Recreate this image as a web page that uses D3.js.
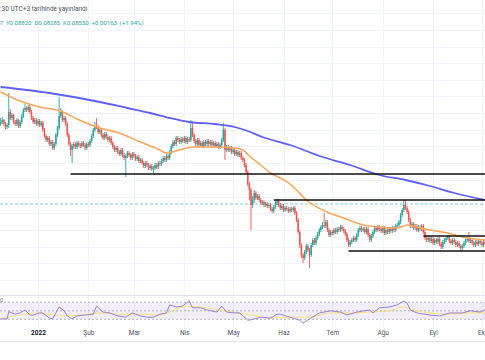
<!DOCTYPE html>
<html><head><meta charset="utf-8">
<script src="https://cdn.jsdelivr.net/npm/d3@7"></script>
<style>
body{margin:0;background:#fff;}
svg{display:block;font-family:Roboto,"DejaVu Sans",sans-serif;}
</style></head>
<body><svg id="c" width="485" height="360"></svg>
<script>
// ---- DATA (DOGE daily candles, first candle 2021-12-09) ----
const firstDay = "2021-12-09";
const firstOpen = 0.1335;
const closes = [
.1347,.1359,.1335,.1317,.1329,.1407,.1371,.1389,.1347,.1335,
.1359,.1323,.1347,.1383,.1419,.1431,.1419,.1437,.1407,.1371,
.1347,.1359,.1335,.1353,.1329,.1341,.1299,.1263,.1239,.1251,
.1215,.1227,.1191,.1215,.1269,.1311,.1383,.1407,.1359,.1371,
.1335,.1269,.1215,.1179,.1203,.1215,.1197,.1221,.1209,.1203,
.1221,.1209,.1191,.1215,.1209,.1233,.1263,.1299,.1323,.1317,
.1287,.1299,.1269,.1251,.1275,.1257,.1239,.1251,.1221,.1197,
.1179,.1191,.1167,.1155,.1179,.1149,.1131,.1143,.1161,.1149,
.1131,.1155,.1143,.1125,.1137,.1113,.1119,.1101,.1083,.1101,
.1089,.1071,.1083,.1065,.1071,.1089,.1077,.1101,.1095,.1113,
.1131,.1119,.1143,.1131,.1167,.1203,.1227,.1215,.1251,.1239,
.1227,.1245,.1233,.1251,.1227,.1245,.1239,.1311,.1269,.1233,
.1215,.1239,.1209,.1221,.1203,.1227,.1215,.1233,.1215,.1227,
.1209,.1221,.1203,.1215,.1197,.1209,.1239,.1299,.1179,.1197,
.1179,.1191,.1167,.1179,.1155,.1167,.1149,.1161,.1131,.1119,
.1089,.1047,.0975,.0939,.0849,.0879,.0921,.0891,.0903,.0879,
.0861,.0867,.0849,.0855,.0843,.0849,.0825,.0813,.0837,.0861,
.0873,.0849,.0831,.0843,.0819,.0831,.0825,.0813,.0825,.0819,
.0831,.0801,.0759,.0687,.0609,.0549,.0531,.0567,.0603,.0579,
.0549,.0609,.0639,.0621,.0651,.0675,.0699,.0717,.0729,.0723,
.0747,.0699,.0669,.0687,.0681,.0699,.0687,.0705,.0699,.0717,
.0705,.0693,.0675,.0639,.0609,.0627,.0639,.0651,.0639,.0669,
.0699,.0711,.0699,.0705,.0687,.0705,.0669,.0639,.0663,.0687,
.0711,.0699,.0717,.0705,.0693,.0711,.0681,.0699,.0687,.0705,
.0693,.0711,.0699,.0723,.0729,.0747,.0789,.0819,.0849,.0831,
.0807,.0759,.0723,.0735,.0711,.0723,.0699,.0717,.0705,.0723,
.0687,.0651,.0639,.0651,.0633,.0645,.0621,.0639,.0627,.0645,
.0615,.0597,.0627,.0639,.0651,.0657,.0633,.0621,.0639,.0627,
.0609,.0621,.0603,.0591,.0603,.0621,.0639,.0645,.0633,.0639,
.0621,.0609,.0627,.0615,.0633,.0621,.0609,.0627,.0615];
const highs = [
.1371,.1377,.1365,.1347,.1341,.1521,.1425,.1401,.1395,.1359,
.1371,.1365,.1359,.1395,.1431,.1455,.1443,.1449,.1449,.1419,
.1383,.1371,.1371,.1365,.1365,.1353,.1353,.1311,.1275,.1263,
.1263,.1239,.1239,.1227,.1281,.1323,.1497,.1431,.1419,.1383,
.1383,.1347,.1281,.1227,.1215,.1227,.1227,.1233,.1233,.1221,
.1233,.1233,.1221,.1227,.1227,.1245,.1275,.1311,.1347,.1371,
.1329,.1311,.1311,.1281,.1287,.1287,.1269,.1263,.1263,.1233,
.1209,.1203,.1203,.1179,.1191,.1191,.1161,.1155,.1173,.1173,
.1161,.1167,.1167,.1155,.1149,.1149,.1131,.1131,.1113,.1113,
.1113,.1101,.1095,.1095,.1083,.1101,.1101,.1113,.1113,.1125,
.1143,.1143,.1155,.1155,.1179,.1215,.1239,.1239,.1263,.1263,
.1251,.1257,.1257,.1263,.1263,.1257,.1257,.1359,.1347,.1281,
.1245,.1251,.1251,.1233,.1233,.1239,.1239,.1245,.1245,.1239,
.1239,.1233,.1233,.1227,.1227,.1221,.1251,.1341,.1311,.1209,
.1209,.1203,.1203,.1191,.1191,.1179,.1179,.1173,.1173,.1143,
.1131,.1101,.1059,.0987,.0951,.0903,.0939,.0933,.0915,.0915,
.0891,.0879,.0879,.0867,.0867,.0861,.0861,.0837,.0849,.0873,
.0885,.0885,.0861,.0855,.0855,.0843,.0843,.0837,.0837,.0837,
.0843,.0843,.0813,.0771,.0699,.0621,.0561,.0579,.0615,.0615,
.0591,.0621,.0651,.0651,.0663,.0687,.0711,.0729,.0747,.0801,
.0759,.0759,.0711,.0699,.0699,.0711,.0711,.0717,.0717,.0729,
.0729,.0717,.0705,.0687,.0651,.0639,.0651,.0663,.0663,.0681,
.0711,.0723,.0723,.0717,.0717,.0717,.0717,.0681,.0675,.0699,
.0723,.0723,.0729,.0729,.0717,.0723,.0723,.0711,.0711,.0717,
.0717,.0723,.0723,.0735,.0741,.0759,.0801,.0831,.0879,.0879,
.0843,.0819,.0771,.0747,.0747,.0735,.0735,.0729,.0729,.0735,
.0735,.0699,.0663,.0663,.0663,.0657,.0657,.0651,.0651,.0657,
.0657,.0627,.0639,.0651,.0663,.0669,.0669,.0645,.0651,.0651,
.0639,.0633,.0633,.0615,.0615,.0633,.0651,.0657,.0687,.0651,
.0651,.0633,.0639,.0639,.0645,.0645,.0633,.0639,.0639];
const lows = [
.1323,.1335,.1323,.1305,.1305,.1311,.1359,.1359,.1335,.1323,
.1323,.1311,.1311,.1335,.1371,.1407,.1407,.1407,.1395,.1359,
.1335,.1335,.1323,.1323,.1317,.1317,.1287,.1251,.1227,.1227,
.1203,.1203,.1179,.1179,.1203,.1257,.1299,.1371,.1347,.1347,
.1323,.1257,.1203,.1143,.1101,.1185,.1185,.1185,.1197,.1191,
.1191,.1197,.1179,.1179,.1197,.1197,.1221,.1251,.1287,.1305,
.1275,.1275,.1257,.1239,.1239,.1245,.1227,.1227,.1209,.1185,
.1167,.1167,.1155,.1143,.1143,.1137,.1119,.1017,.1131,.1137,
.1119,.1119,.1131,.1113,.1113,.1101,.1101,.1089,.1071,.1071,
.1077,.1059,.1059,.1053,.1041,.1059,.1065,.1065,.1083,.1083,
.1101,.1107,.1107,.1119,.1119,.1155,.1191,.1203,.1203,.1227,
.1215,.1215,.1221,.1221,.1215,.1215,.1227,.1227,.1257,.1221,
.1203,.1203,.1197,.1197,.1191,.1191,.1203,.1203,.1203,.1203,
.1197,.1197,.1191,.1191,.1185,.1185,.1197,.1227,.1119,.1167,
.1167,.1167,.1155,.1155,.1143,.1143,.1137,.1137,.1119,.1107,
.1077,.1035,.0963,.0879,.0699,.0831,.0861,.0879,.0879,.0867,
.0849,.0849,.0837,.0837,.0831,.0831,.0813,.0801,.0801,.0825,
.0849,.0837,.0819,.0819,.0807,.0807,.0813,.0801,.0801,.0807,
.0807,.0789,.0747,.0675,.0591,.0531,.0501,.0519,.0555,.0567,
.0471,.0537,.0597,.0609,.0609,.0639,.0663,.0687,.0705,.0711,
.0711,.0687,.0657,.0657,.0669,.0669,.0675,.0675,.0687,.0687,
.0693,.0681,.0663,.0627,.0597,.0597,.0615,.0627,.0627,.0627,
.0657,.0687,.0687,.0687,.0675,.0675,.0657,.0627,.0627,.0651,
.0675,.0687,.0687,.0693,.0681,.0681,.0669,.0669,.0675,.0675,
.0681,.0681,.0687,.0687,.0711,.0717,.0735,.0777,.0807,.0819,
.0795,.0747,.0711,.0711,.0699,.0699,.0687,.0687,.0693,.0693,
.0675,.0639,.0627,.0627,.0621,.0621,.0609,.0609,.0615,.0615,
.0603,.0585,.0585,.0615,.0627,.0639,.0621,.0609,.0609,.0615,
.0597,.0597,.0591,.0567,.0579,.0591,.0609,.0627,.0621,.0621,
.0609,.0597,.0597,.0603,.0603,.0609,.0597,.0597,.0603];

// moving averages (candle index -> value)
const ma50Idx = [0,12,24,37,47,61,73,86,98,102,110,118,131,144,149,153,160,166,172,178,182,188,198,211,223,233,244,250,256,264,275,284,298];
const ma50Val = [.1527,.1473,.1437,.1413,.1365,.1311,.1281,.1227,.1179,.1161,.1179,.1197,.1197,.1191,.1179,.1143,.1089,.1041,.1011,.0975,.0939,.0879,.0819,.0771,.0729,.0717,.0711,.0729,.0717,.0699,.0681,.0657,.0639];
const ma200Idx = [0,30,61,78,92,104,116,132,144,152,161,178,198,215,233,249,264,279,298];
const ma200Val = [.1557,.1521,.1467,.1431,.1401,.1371,.1347,.1335,.1317,.1293,.1257,.1209,.1137,.1089,.1029,.0999,.0963,.0921,.0879];

// horizontal levels drawn by the author
const levelValues = [0.1035, 0.0879, 0.0573, 0.0663];
const levelStartIdx = [43, 168, 214, 260];
const lastPrice = 0.0855;

// RSI pane
const rsiIdx = [0,4,5,9,12,15,18,20,24,26,30,32,36,39,41,44,47,52,57,59,63,67,72,77,81,86,90,94,98,102,104,108,112,116,118,123,127,133,136,139,144,147,152,153,160,166,170,172,178,184,186,190,196,203,209,213,219,227,229,233,239,244,248,250,252,256,264,270,276,284,289,295,298];
const rsiVal = [31,31,48,42,45,52,40,40,45,45,33,31,59,50,38,31,38,40,42,61,47,45,38,35,45,38,35,35,42,45,64,59,61,74,57,57,52,47,61,47,45,45,28,28,35,33,42,42,35,28,21,31,45,50,47,40,47,52,45,57,59,64,73,68,52,45,40,38,45,45,50,47,52];
const rsiMaIdx = [0,12,24,37,49,61,73,86,98,110,118,131,143,153,166,178,190,203,215,227,239,247,256,264,276,289,298];
const rsiMaVal = [31,40,45,38,40,45,42,42,40,57,61,54,47,41,33,35,35,45,45,47,50,59,50,45,42,45,45];
const rsiBands = [70, 50, 30];

// axis
const monthTicks = ["2022-01-01","2022-02-01","2022-03-01","2022-04-01","2022-05-01","2022-06-01","2022-07-01","2022-08-01","2022-09-01","2022-10-01"];
const monthLabels = ["2022","Şub","Mar","Nis","May","Haz","Tem","Ağu","Eyl","Eki"];
const priceGrid = [0.04,0.05,0.06,0.07,0.08,0.09,0.10,0.11,0.12,0.13,0.14,0.15,0.16,0.17,0.18,0.19,0.20];

// legend
const headerText = ":30 UTC+3 tarihinde yayınlandı";
const legendOpen = "A0.08387";
const legendText = "Y0.08820  D0.08285  K0.08550  +0.00163  (+1.94%)";

// ---- DRAW ----
const W = 485, mainBottom = 295;
const svg = d3.select("#c");
const parse = d3.utcParse("%Y-%m-%d");
const start = parse(firstDay);
const dates = closes.map((_, i) => d3.utcDay.offset(start, i));
const x = d3.scaleUtc().domain([new Date(Date.UTC(2021,11,8,15)), new Date(Date.UTC(2022,9,2,22))]).range([0, W]);
const y = d3.scaleLinear().domain([0.0309, 0.2079]).range([mainBottom, 0]);
const yr = d3.scaleLinear().domain([30, 70]).range([319.3, 302.3]);

svg.append("rect").attr("width", W).attr("height", 360).attr("fill", "#fff");
svg.append("clipPath").attr("id","mainclip").append("rect").attr("x",0).attr("y",0).attr("width",W).attr("height",mainBottom);

// grid
const grid = svg.append("g");
grid.selectAll("line.v").data(monthTicks).join("line")
  .attr("x1", d => Math.round(x(parse(d))) + 0.5).attr("x2", d => Math.round(x(parse(d))) + 0.5)
  .attr("y1", 0).attr("y2", 327).attr("stroke", "#f0f3fa").attr("stroke-width", 1);
grid.selectAll("line.h").data(priceGrid).join("line")
  .attr("x1", 0).attr("x2", W)
  .attr("y1", d => Math.round(y(d)) + 0.5).attr("y2", d => Math.round(y(d)) + 0.5)
  .attr("stroke", "#f0f3fa").attr("stroke-width", 1);

// pane separators
svg.append("line").attr("x1",0).attr("x2",W).attr("y1",295.5).attr("y2",295.5).attr("stroke","#e0e3eb");
svg.append("line").attr("x1",0).attr("x2",W).attr("y1",341.5).attr("y2",341.5).attr("stroke","#e0e3eb");

const main = svg.append("g").attr("clip-path","url(#mainclip)");

// current price line
main.append("line").attr("x1",0).attr("x2",W).attr("y1",y(lastPrice)).attr("y2",y(lastPrice))
  .attr("stroke","#7fcfc6").attr("stroke-width",1).attr("stroke-dasharray","3,2");

// candles
const candles = closes.map((c, i) => ({
  date: dates[i], open: i === 0 ? firstOpen : closes[i-1], close: c, high: highs[i], low: lows[i]
}));
const up = "#26a69a", down = "#ef5350";
const cg = main.append("g");
cg.selectAll("line").data(candles).join("line")
  .attr("x1", d => x(d.date)).attr("x2", d => x(d.date))
  .attr("y1", d => y(d.high)).attr("y2", d => y(d.low))
  .attr("stroke", d => d.close >= d.open ? up : down).attr("stroke-width", 0.9);
cg.selectAll("rect").data(candles).join("rect")
  .attr("x", d => x(d.date) - 0.75).attr("width", 1.5)
  .attr("y", d => y(Math.max(d.open, d.close)))
  .attr("height", d => Math.max(1, Math.abs(y(d.open) - y(d.close))))
  .attr("fill", d => d.close >= d.open ? up : down);

// moving averages
const maLine = d3.line().x(d => x(dates[d[0]])).y(d => y(d[1])).curve(d3.curveMonotoneX);
main.append("path").datum(ma200Idx.map((k, i) => [k, ma200Val[i]]))
  .attr("d", maLine).attr("fill","none").attr("stroke","#5f5ff5").attr("stroke-width",1.8);
main.append("path").datum(ma50Idx.map((k, i) => [k, ma50Val[i]]))
  .attr("d", maLine).attr("fill","none").attr("stroke","#f9a75c").attr("stroke-width",1.6);

// horizontal levels
main.selectAll("line.lvl").data(levelValues).join("line")
  .attr("x1", (d, i) => x(dates[levelStartIdx[i]])).attr("x2", W)
  .attr("y1", d => y(d)).attr("y2", d => y(d))
  .attr("stroke", "#111").attr("stroke-width", 1.5);

// RSI pane
const rp = svg.append("g");
rp.append("rect").attr("x",0).attr("width",W).attr("y",yr(70)).attr("height",yr(30)-yr(70))
  .attr("fill","rgba(126,87,194,0.1)");
rp.selectAll("line.b").data(rsiBands).join("line")
  .attr("x1",0).attr("x2",W).attr("y1", d => yr(d)).attr("y2", d => yr(d))
  .attr("stroke","#a3a6af").attr("stroke-width",0.8).attr("stroke-dasharray","2,2");
rp.append("path").datum(rsiMaIdx.map((k,i)=>[k, rsiMaVal[i]]))
  .attr("d", d3.line().x(d => x(dates[d[0]])).y(d => yr(d[1])).curve(d3.curveMonotoneX))
  .attr("fill","none").attr("stroke","#f4e37a").attr("stroke-width",1);
rp.append("path").datum(rsiIdx.map((k,i)=>[k, rsiVal[i]]))
  .attr("d", d3.line().x(d => x(dates[d[0]])).y(d => yr(d[1])))
  .attr("fill","none").attr("stroke","#9c7fd6").attr("stroke-width",1);
rp.append("text").attr("x",0).attr("y",302).attr("font-size",5.5).attr("fill","#787b86").text("0");

// time axis
const ax = svg.append("g").attr("transform","translate(0,330)")
  .call(d3.axisBottom(x).tickValues(monthTicks.map(parse)).tickFormat((d,i) => monthLabels[i]).tickSize(0).tickPadding(0));
ax.select(".domain").remove();
ax.selectAll("text").attr("font-size", 6.5).attr("font-family","Roboto, sans-serif")
  .attr("fill", (d,i) => i === 0 ? "#131722" : "#50535e")
  .attr("font-weight", (d,i) => i === 0 ? "bold" : "normal");

// header texts
svg.append("text").attr("x",0).attr("y",10.5).attr("font-size",6.5).attr("fill","#50535e").text(headerText);
svg.append("text").attr("x",3.5).attr("y",25).attr("font-size",6).attr("fill","#26a69a")
  .attr("text-anchor","end").text(legendOpen);
svg.append("text").attr("x",6).attr("y",25).attr("font-size",6).attr("fill","#26a69a")
  .attr("xml:space","preserve").style("white-space","pre").text(legendText);
</script>
</body></html>
